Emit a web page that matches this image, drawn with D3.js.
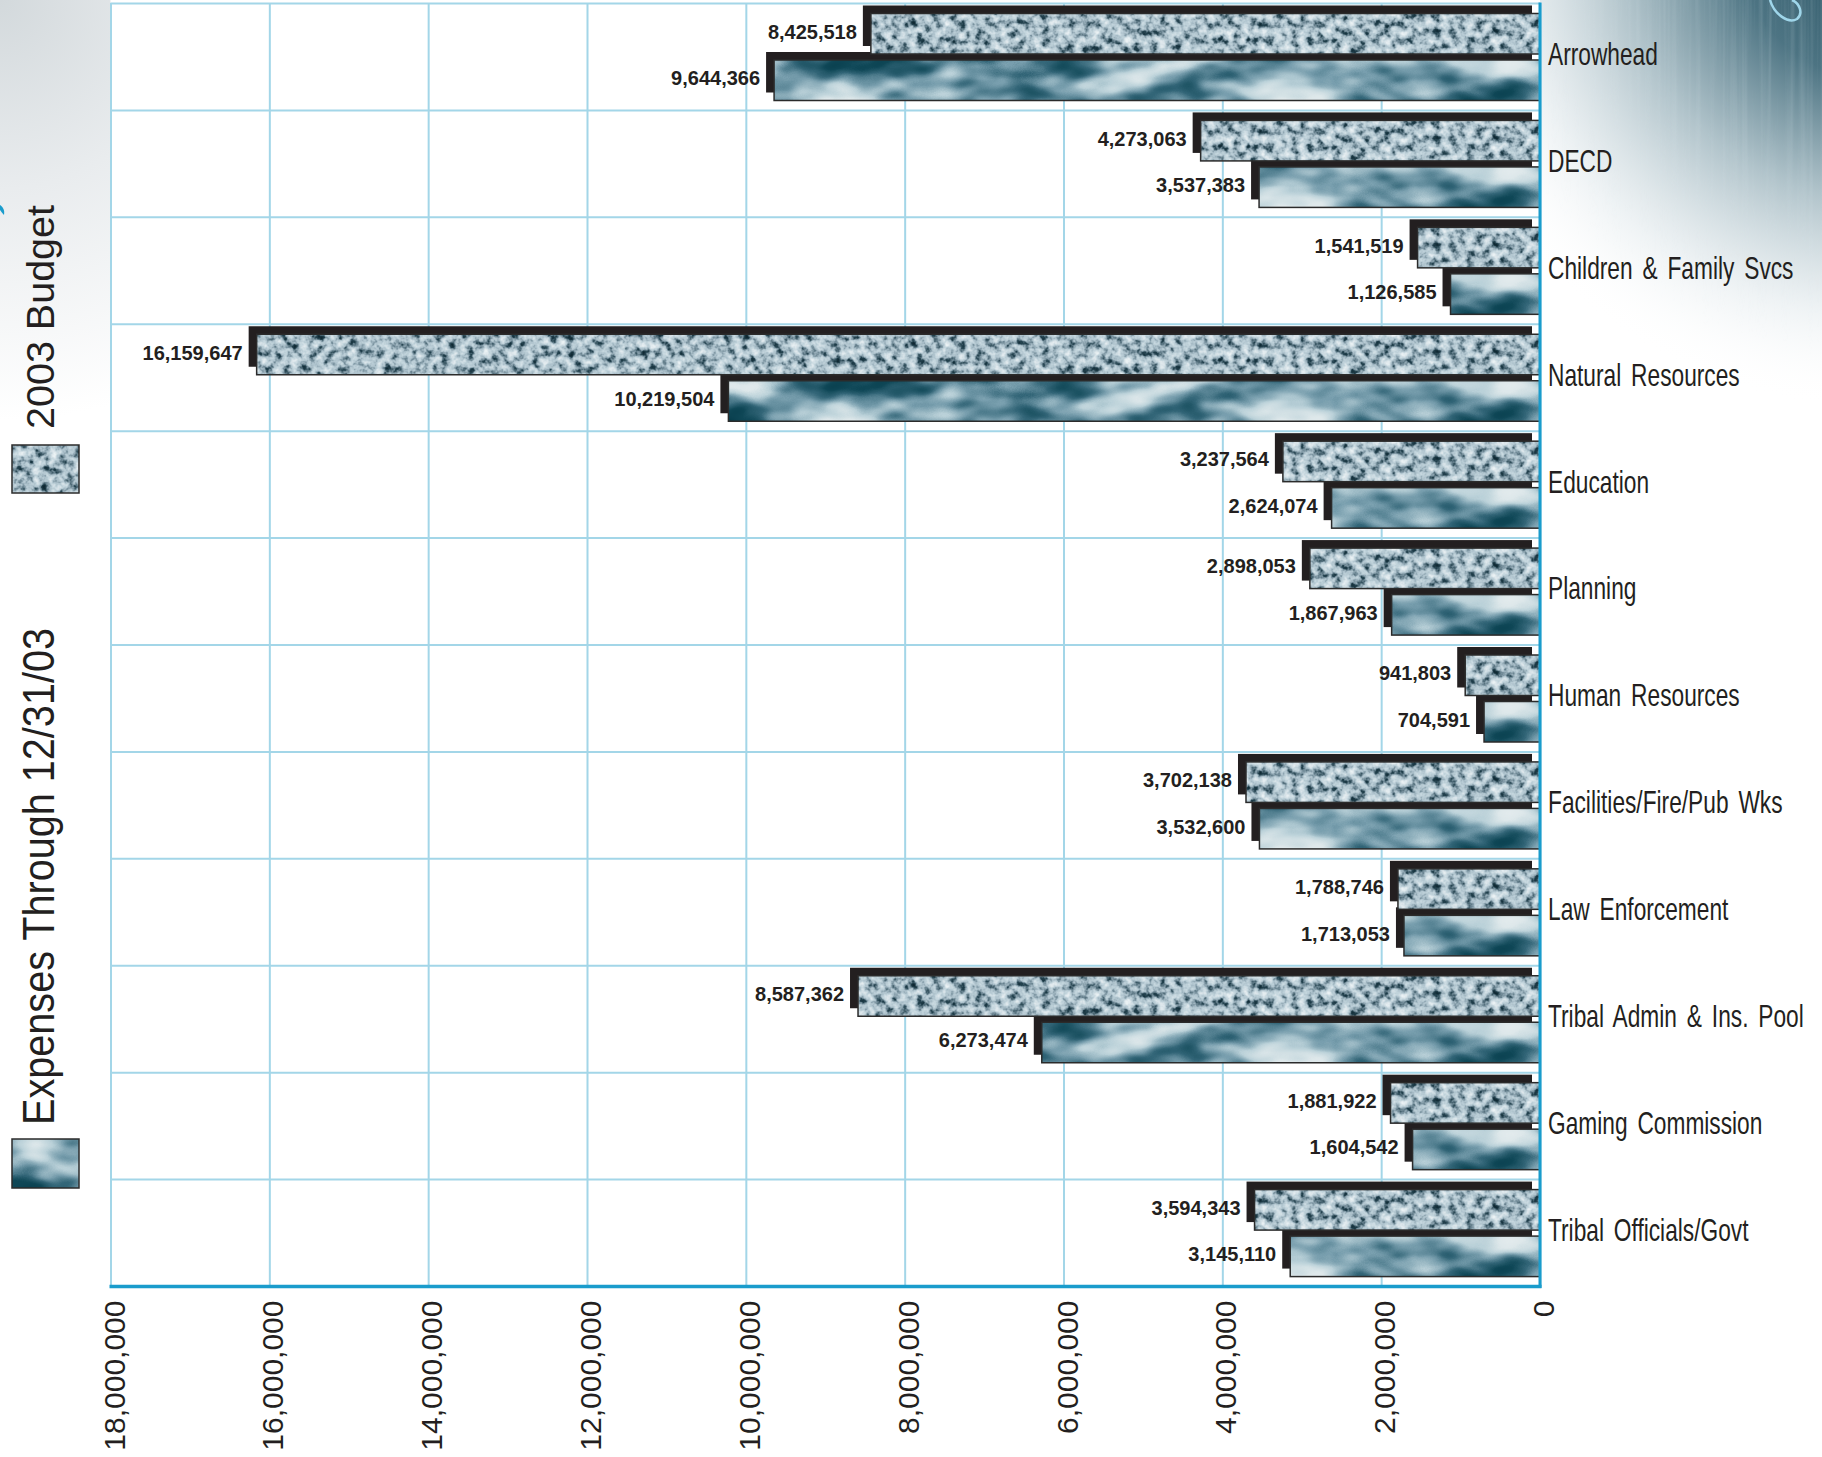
<!DOCTYPE html>
<html>
<head>
<meta charset="utf-8">
<script src="https://cdn.jsdelivr.net/npm/d3@7"></script>
<style>
  html, body { margin: 0; padding: 0; background: #ffffff; }
  svg { display: block; }
</style>
</head>
<body>
<div id="chart"></div>
<script>
// ---------- data ----------
const categories = ["Arrowhead", "DECD", "Children & Family Svcs", "Natural Resources", "Education",
  "Planning", "Human Resources", "Facilities/Fire/Pub Wks", "Law Enforcement",
  "Tribal Admin & Ins. Pool", "Gaming Commission", "Tribal Officials/Govt"];
const budget2003 = [8425518, 4273063, 1541519, 16159647, 3237564, 2898053, 941803, 3702138,
  1788746, 8587362, 1881922, 3594343];
const expensesThrough = [9644366, 3537383, 1126585, 10219504, 2624074, 1867963, 704591, 3532600,
  1713053, 6273474, 1604542, 3145110];
const seriesKeys = ["budget", "expenses"];
const seriesNames = ["2003 Budget", "Expenses Through 12/31/03"];
const tickValues = [0, 2000000, 4000000, 6000000, 8000000, 10000000, 12000000, 14000000, 16000000, 18000000];

// ---------- setup ----------
const W = 1822, H = 1457;
const plotLeft = 110.5, plotRight = 1540, plotTop = 3.5, plotBottom = 1286.5;
const svg = d3.select("#chart").append("svg").attr("width", W).attr("height", H);
const defs = svg.append("defs");

// textures
function makeFilter(id, freq, octaves, seed, R, G, B) {
  const f = defs.append("filter").attr("id", id)
    .attr("x", 0).attr("y", 0).attr("width", 1).attr("height", 1)
    .attr("primitiveUnits", "userSpaceOnUse")
    .attr("color-interpolation-filters", "sRGB");
  f.append("feTurbulence").attr("type", "fractalNoise").attr("baseFrequency", freq)
    .attr("numOctaves", octaves).attr("seed", seed).attr("result", "t");
  f.append("feColorMatrix").attr("in", "t").attr("type", "matrix")
    .attr("values", "1 0 0 0 0  1 0 0 0 0  1 0 0 0 0  0 0 0 0 1").attr("result", "g");
  const ct = f.append("feComponentTransfer").attr("in", "g").attr("result", "c");
  ct.append("feFuncR").attr("type", "table").attr("tableValues", R);
  ct.append("feFuncG").attr("type", "table").attr("tableValues", G);
  ct.append("feFuncB").attr("type", "table").attr("tableValues", B);
  f.append("feComposite").attr("in", "c").attr("in2", "SourceGraphic").attr("operator", "in");
}
makeFilter("fBudget", "0.12", 3, 7,
  "0.06 0.06 0.14 0.45 0.68 0.77 0.86 0.92 0.92",
  "0.16 0.16 0.26 0.55 0.76 0.84 0.9 0.95 0.95",
  "0.2 0.2 0.31 0.6 0.8 0.87 0.92 0.96 0.96");
makeFilter("fExpense", "0.012 0.026", 3, 11,
  "0.03 0.03 0.06 0.2 0.47 0.73 0.87 0.92 0.92",
  "0.24 0.24 0.28 0.4 0.62 0.82 0.91 0.94 0.94",
  "0.3 0.3 0.34 0.47 0.68 0.85 0.92 0.95 0.95");
const filterFor = { budget: "url(#fBudget)", expenses: "url(#fExpense)" };

// background decoration gradients
const rg = defs.append("radialGradient").attr("id", "gTL")
  .attr("gradientUnits", "userSpaceOnUse").attr("cx", 0).attr("cy", 0).attr("r", 420);
rg.append("stop").attr("offset", "0").attr("stop-color", "#d3d9dc");
rg.append("stop").attr("offset", "0.45").attr("stop-color", "#e9ecee");
rg.append("stop").attr("offset", "1").attr("stop-color", "#ffffff");

const tr = defs.append("radialGradient").attr("id", "gTR")
  .attr("gradientUnits", "userSpaceOnUse").attr("cx", 1880).attr("cy", -60).attr("r", 470);
tr.append("stop").attr("offset", "0").attr("stop-color", "#244f5f").attr("stop-opacity", 1);
tr.append("stop").attr("offset", "0.3").attr("stop-color", "#4d7483").attr("stop-opacity", 1);
tr.append("stop").attr("offset", "0.55").attr("stop-color", "#a7bcc4").attr("stop-opacity", 0.9);
tr.append("stop").attr("offset", "0.8").attr("stop-color", "#e4ebee").attr("stop-opacity", 0.6);
tr.append("stop").attr("offset", "1").attr("stop-color", "#ffffff").attr("stop-opacity", 0);

const mTRg = defs.append("radialGradient").attr("id", "gTRm")
  .attr("gradientUnits", "userSpaceOnUse").attr("cx", 1880).attr("cy", -60).attr("r", 430);
mTRg.append("stop").attr("offset", "0").attr("stop-color", "#fff");
mTRg.append("stop").attr("offset", "0.6").attr("stop-color", "#777");
mTRg.append("stop").attr("offset", "1").attr("stop-color", "#000");
const mk = defs.append("mask").attr("id", "mTR");
mk.append("rect").attr("x", 1540).attr("y", 0).attr("width", 282).attr("height", 460).attr("fill", "url(#gTRm)");

const streak = defs.append("filter").attr("id", "fStreak")
  .attr("x", 0).attr("y", 0).attr("width", 1).attr("height", 1)
  .attr("primitiveUnits", "userSpaceOnUse").attr("color-interpolation-filters", "sRGB");
streak.append("feTurbulence").attr("type", "fractalNoise").attr("baseFrequency", "0.22 0.004")
  .attr("numOctaves", 2).attr("seed", 3).attr("result", "t");
streak.append("feColorMatrix").attr("in", "t").attr("type", "matrix")
  .attr("values", "0 0 0 0 0.85  0 0 0 0 0.9  0 0 0 0 0.92  1.4 0 0 0 -0.6").attr("result", "s");
streak.append("feComposite").attr("in", "s").attr("in2", "SourceGraphic").attr("operator", "in");

svg.append("rect").attr("x", 0).attr("y", 0).attr("width", 420).attr("height", 420).attr("fill", "url(#gTL)");
svg.append("rect").attr("x", 1540).attr("y", 0).attr("width", 282).attr("height", 460).attr("fill", "url(#gTR)");
svg.append("rect").attr("x", 1540).attr("y", 0).attr("width", 282).attr("height", 460)
  .attr("fill", "#000").attr("filter", "url(#fStreak)").attr("mask", "url(#mTR)").attr("opacity", 0.45);
// light-blue swirl top right
svg.append("path").attr("d", "M1770,0 C1774,14 1788,24 1797,19 C1804,13 1799,3 1792,0")
  .attr("fill", "none").attr("stroke", "#9fd6ea").attr("stroke-width", 2.5);
// small blue swoosh at left
svg.append("path").attr("d", "M0,205 C3,207 5,210 4,215 C2,213 1,211 0,210 Z").attr("fill", "#1a9ccc");

// plot background
svg.append("rect").attr("x", plotLeft).attr("y", 0).attr("width", plotRight - plotLeft).attr("height", plotBottom)
  .attr("fill", "#ffffff");

// ---------- scales ----------
const x = d3.scaleLinear().domain([0, 18000000]).range([plotRight, plotLeft]);
const y0 = d3.scaleBand().domain(categories).range([plotTop, plotBottom]).paddingInner(0).paddingOuter(0);
const y1 = d3.scaleBand().domain(seriesKeys).range([10, 97]).paddingInner(0.129);

// ---------- grid ----------
const gridColor = "#a3d6e8";
const gx = svg.append("g").attr("transform", `translate(0,${plotBottom})`)
  .call(d3.axisBottom(x).tickValues(tickValues).tickSize(-(plotBottom - plotTop + 0.5)).tickFormat(""));
gx.select(".domain").remove();
gx.selectAll(".tick line").attr("stroke", gridColor).attr("stroke-width", 2);

const gy = svg.append("g").attr("transform", `translate(${plotLeft},0)`)
  .call(d3.axisLeft(y0).tickSize(-(plotRight - plotLeft)).tickFormat("")
    .tickValues(categories).offset(0));
gy.select(".domain").remove();
gy.selectAll(".tick").attr("transform", d => `translate(0,${y0(d)})`);
gy.selectAll(".tick line").attr("stroke", gridColor).attr("stroke-width", 2);

// ---------- bars ----------
const rows = categories.map((c, i) => ({ cat: c, budget: budget2003[i], expenses: expensesThrough[i] }));
const groups = svg.append("g").selectAll("g.row").data(rows).join("g")
  .attr("class", "row").attr("transform", d => `translate(0,${y0(d.cat)})`);

const SHX = -8, SHY = -8;
seriesKeys.forEach(key => {
  groups.append("rect")
    .attr("x", d => x(d[key]) + SHX).attr("y", y1(key) + SHY)
    .attr("width", d => x(0) - x(d[key])).attr("height", y1.bandwidth())
    .attr("fill", "#231f20");
});
seriesKeys.forEach(key => {
  groups.append("rect")
    .attr("x", d => x(d[key])).attr("y", y1(key))
    .attr("width", d => x(0) - x(d[key])).attr("height", y1.bandwidth())
    .attr("fill", "#7f9aa5").attr("filter", filterFor[key]);
  groups.append("rect")
    .attr("x", d => x(d[key])).attr("y", y1(key))
    .attr("width", d => x(0) - x(d[key])).attr("height", y1.bandwidth())
    .attr("fill", "none").attr("stroke", "#2b2b2b").attr("stroke-width", 1.5);
  groups.append("text")
    .attr("x", d => x(d[key]) + SHX - 6)
    .attr("y", y1(key) + y1.bandwidth() / 2 - 2)
    .attr("text-anchor", "end").attr("dominant-baseline", "central")
    .attr("font-family", "'Liberation Sans', Arial, sans-serif").attr("font-weight", "bold")
    .attr("font-size", 20).attr("fill", "#231f20")
    .text(d => d3.format(",")(d[key]));
});

// ---------- axes lines ----------
svg.append("line").attr("x1", plotRight).attr("x2", plotRight).attr("y1", plotTop - 1).attr("y2", plotBottom + 1.5)
  .attr("stroke", "#1a9ccc").attr("stroke-width", 3);
svg.append("line").attr("x1", plotLeft - 1).attr("x2", plotRight + 1.5).attr("y1", plotBottom).attr("y2", plotBottom)
  .attr("stroke", "#1a9ccc").attr("stroke-width", 3.5);

// category labels (right)
const ay = svg.append("g").attr("transform", `translate(${plotRight},0)`)
  .call(d3.axisRight(y0).tickSize(0).tickPadding(0));
ay.select(".domain").remove();
ay.selectAll(".tick text")
  .attr("x", 0).attr("dy", null)
  .attr("dominant-baseline", "central")
  .attr("transform", "translate(8,-3) scale(0.71,1)")
  .attr("font-family", "'Liberation Sans', Arial, sans-serif")
  .attr("font-size", 32).attr("fill", "#231f20").attr("word-spacing", 5);

// value axis labels (bottom, rotated)
const ax = svg.append("g").attr("transform", `translate(0,${plotBottom})`)
  .call(d3.axisBottom(x).tickValues(tickValues).tickSize(0).tickFormat(d3.format(",")));
ax.select(".domain").remove();
ax.selectAll(".tick text")
  .attr("y", 0).attr("dy", null)
  .attr("transform", "translate(3,14) rotate(-90)")
  .attr("text-anchor", "end").attr("dominant-baseline", "central")
  .attr("font-family", "'Liberation Sans', Arial, sans-serif")
  .attr("font-size", 30).attr("fill", "#231f20");

// ---------- legend (left, rotated) ----------
const legendSw = [
  { key: "budget", name: seriesNames[0], swY: 445, swH: 48, textY: 429, size: 39, len: 224 },
  { key: "expenses", name: seriesNames[1], swY: 1139, swH: 49, textY: 1125, size: 44, len: 497 }
];
const lgG = svg.append("g");
legendSw.forEach(l => {
  lgG.append("rect").attr("x", 12).attr("y", l.swY).attr("width", 67).attr("height", l.swH)
    .attr("fill", "#7f9aa5").attr("filter", filterFor[l.key]);
  lgG.append("rect").attr("x", 12).attr("y", l.swY).attr("width", 67).attr("height", l.swH)
    .attr("fill", "none").attr("stroke", "#2b2b2b").attr("stroke-width", 1.5);
  lgG.append("text")
    .attr("transform", `translate(54,${l.textY}) rotate(-90)`)
    .attr("font-family", "'Liberation Sans', Arial, sans-serif")
    .attr("font-size", l.size).attr("fill", "#231f20")
    .attr("textLength", l.len).attr("lengthAdjust", "spacingAndGlyphs")
    .text(l.name);
});
</script>
</body>
</html>
